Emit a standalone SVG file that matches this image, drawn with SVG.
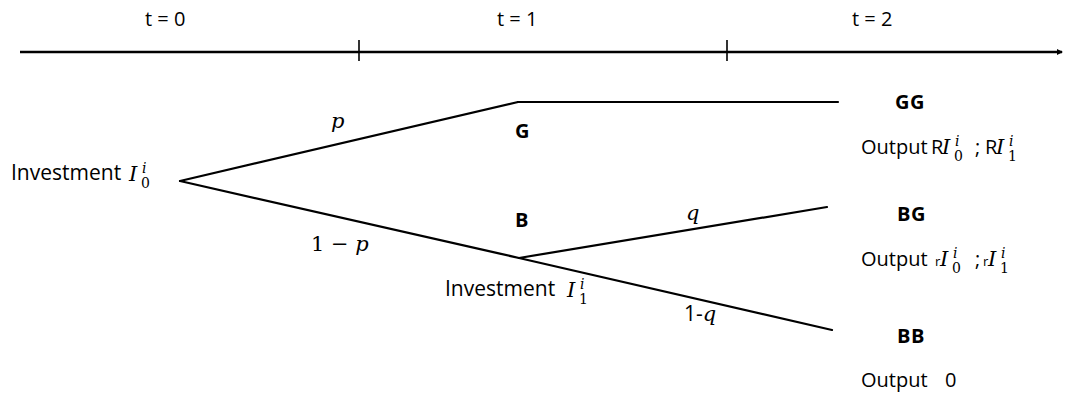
<svg xmlns="http://www.w3.org/2000/svg" width="1065" height="394" viewBox="0 0 1065 394">
<style>
.t{font-family:"Open Sans","Liberation Sans",sans-serif;font-size:21px;fill:#000}
.o{font-family:"Open Sans","Liberation Sans",sans-serif;font-size:20px;fill:#000}
.h{font-family:"Open Sans","Liberation Sans",sans-serif;font-size:20px;fill:#000}
.b{font-family:"Open Sans","Liberation Sans",sans-serif;font-size:20px;font-weight:bold;fill:#000;letter-spacing:0.5px}
.m{font-family:"DejaVu Serif","Liberation Serif",serif;font-style:italic;font-size:21px;fill:#000}
.mn{font-family:"DejaVu Serif","Liberation Serif",serif;font-size:21px;fill:#000}
.sb{font-family:"DejaVu Serif","Liberation Serif",serif;font-size:14px;fill:#000}
.sp{font-family:"DejaVu Serif","Liberation Serif",serif;font-style:italic;font-size:14px;fill:#000}
.sr{font-family:"Open Sans","Liberation Sans",sans-serif;font-size:13px;fill:#000}
.ln{stroke:#000;stroke-width:2.2;fill:none;stroke-linecap:round}
</style>
<defs>
<marker id="ah" markerWidth="6" markerHeight="6" refX="5" refY="3" orient="auto" markerUnits="userSpaceOnUse">
<path d="M0,0 L6,3 L0,6 z" fill="#000"/>
</marker>
</defs>
<g id="timeline">
<line x1="20" y1="52" x2="1062" y2="52" stroke="#000" stroke-width="2.6" marker-end="url(#ah)"/>
<line x1="359" y1="40" x2="359" y2="61" stroke="#000" stroke-width="1.6"/>
<line x1="727" y1="40" x2="727" y2="61" stroke="#000" stroke-width="1.6"/>
<text class="h" x="145" y="26">t = 0</text>
<text class="h" x="497" y="26">t = 1</text>
<text class="h" x="852" y="26">t = 2</text>
</g>
<g id="connectors">
<line class="ln" x1="180" y1="181" x2="518" y2="102"/>
<line class="ln" x1="518" y1="102" x2="838" y2="102"/>
<line class="ln" x1="180" y1="181" x2="519" y2="258"/>
<line class="ln" x1="519" y1="258" x2="827" y2="207"/>
<line class="ln" x1="519" y1="258" x2="832" y2="330"/>
<text class="m" x="331" y="128">p</text>
<text class="mn" x="311" y="251">1 − <tspan class="m">p</tspan></text>
<text class="m" x="686" y="220">q</text>
<text class="t" x="684" y="321">1-<tspan class="m">q</tspan></text>
</g>
<g id="root">
<text class="t" x="11" y="180">Investment</text>
<text class="m" x="129" y="181">I</text>
<text class="sb" x="141" y="188">0</text>
<text class="sp" x="142" y="173">i</text>
</g>
<g id="B">
<text class="b" x="515" y="227">B</text>
<text class="t" x="445" y="296">Investment</text>
<text class="m" x="567" y="297">I</text>
<text class="sb" x="579" y="304">1</text>
<text class="sp" x="580" y="289">i</text>
</g>
<g id="G">
<text class="b" x="515" y="138">G</text>
</g>
<g id="GG">
<text class="b" x="895" y="109">GG</text>
<text class="o" x="861" y="154">Output</text>
<text class="o" x="931" y="154">R</text>
<text class="m" x="942" y="154">I</text>
<text class="sb" x="954" y="161">0</text>
<text class="sp" x="955" y="146">i</text>
<text class="o" x="975" y="154">;</text>
<text class="o" x="985" y="154">R</text>
<text class="m" x="996" y="154">I</text>
<text class="sb" x="1008" y="161">1</text>
<text class="sp" x="1009" y="146">i</text>
</g>
<g id="BG">
<text class="b" x="897" y="221">BG</text>
<text class="o" x="861" y="266">Output</text>
<text class="sr" x="935" y="266">r</text>
<text class="m" x="940" y="266">I</text>
<text class="sb" x="952" y="273">0</text>
<text class="sp" x="953" y="258">i</text>
<text class="o" x="975" y="266">;</text>
<text class="sr" x="983" y="266">r</text>
<text class="m" x="988" y="266">I</text>
<text class="sb" x="1000" y="273">1</text>
<text class="sp" x="1001" y="258">i</text>
</g>
<g id="BB">
<text class="b" x="897" y="343">BB</text>
<text class="o" x="861" y="387">Output</text>
<text class="o" x="945" y="387">0</text>
</g>
</svg>
